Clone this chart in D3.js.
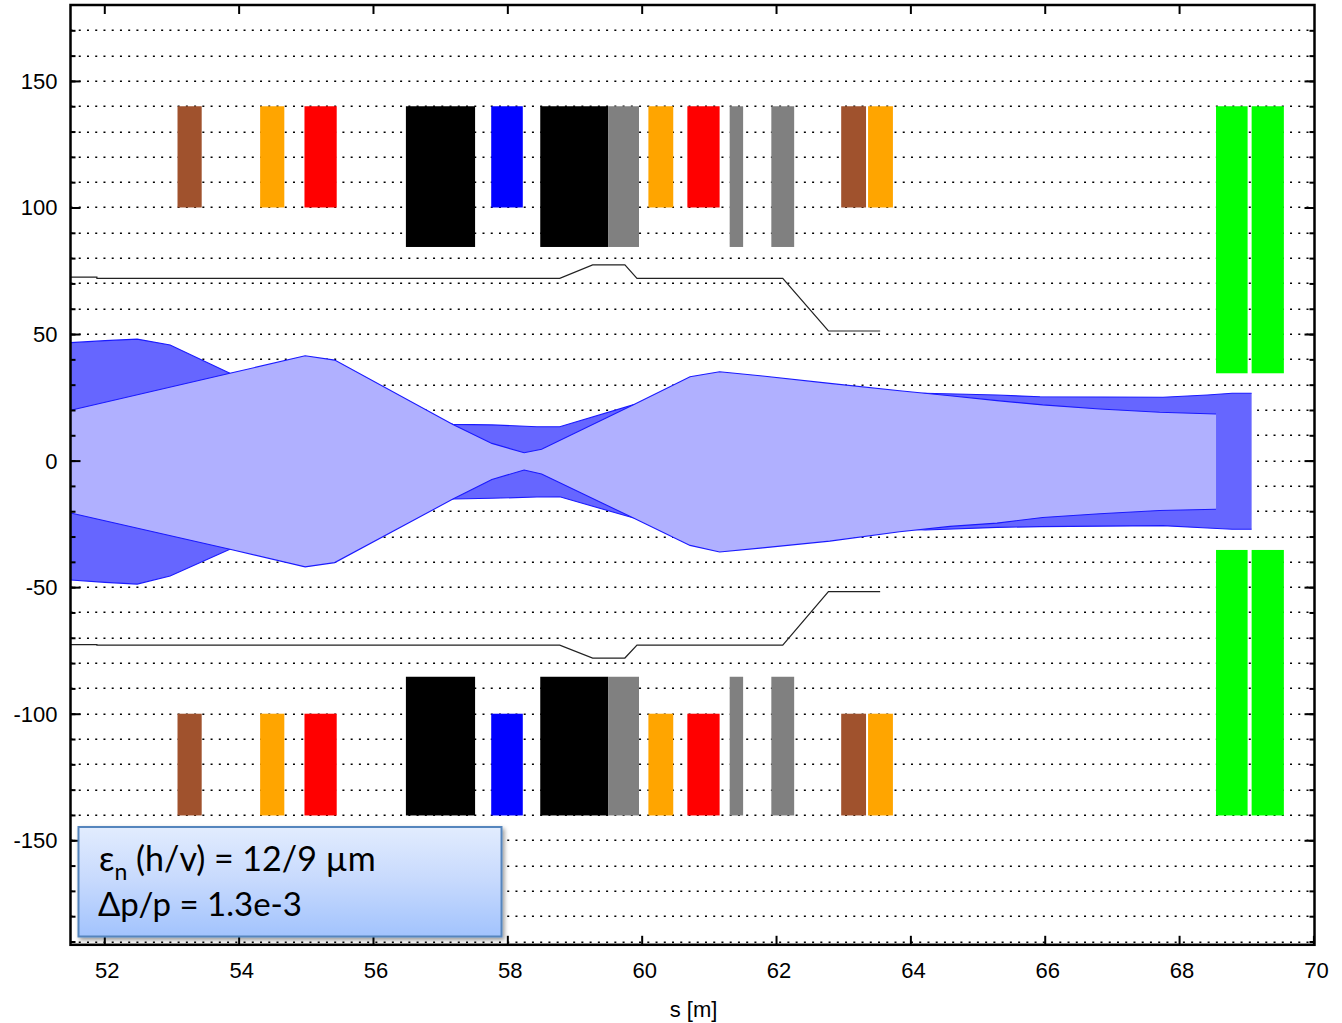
<!DOCTYPE html>
<html><head><meta charset="utf-8">
<script src="https://cdn.jsdelivr.net/npm/d3@7/dist/d3.min.js"></script>
<style>html,body{margin:0;padding:0;background:#fff}svg{display:block}</style>
</head><body><svg id="c" width="1342" height="1023"></svg>
<script>
const xTicks=[52,54,56,58,60,62,64,66,68,70];
const yMajor=[150,100,50,0,-50,-100,-150];
const yGrid=d3.range(-190,180,10);
const xLabel="s [m]";
const legendLine1=["ε","n"," (h/v) = 12/9 µm"];
const legendLine2="Δp/p = 1.3e-3";

// envelope 1 (outer, drawn behind)
const envAS=[51.50,52.01,52.49,52.98,53.87,57.19,57.77,58.44,58.78,59.87,64.22,65.29,65.93,67.76,68.42,68.79,69.08];
const envAUp=[46.6,47.4,48.0,45.7,34.5,14.3,14.1,13.4,13.4,22.0,26.6,25.9,25.2,25.0,25.9,26.6,26.6];
const envALo=[-47.2,-48.1,-48.8,-45.6,-35.0,-15.2,-14.9,-14.4,-14.3,-22.6,-27.4,-26.4,-26.1,-25.7,-26.6,-27.1,-27.1];
// envelope 2 (drawn on top)
const envBS=[51.50,53.87,54.99,55.43,57.19,57.77,58.25,58.51,59.87,60.72,61.16,61.80,62.80,63.84,64.59,65.29,65.97,66.82,67.71,68.55];
const envBUp=[19.9,34.5,41.4,39.7,14.3,6.8,3.1,4.5,22.0,33.1,35.1,33.4,30.5,27.6,25.6,23.7,22.0,20.4,19.1,18.4];
const envBLo=[-20.7,-35.0,-42.0,-40.3,-15.2,-7.5,-3.7,-5.3,-22.6,-33.5,-36.1,-34.5,-31.8,-28.1,-26.0,-24.7,-22.5,-21.0,-19.7,-19.2];
// thin black aperture line
const apS=[51.50,51.89,51.89,58.78,59.27,59.75,59.93,62.10,62.78,63.55];
const apUp=[72.5,72.5,72.0,72.0,77.3,77.3,72.0,72.0,51.2,51.2];
const apLo=[-72.7,-72.7,-72.9,-72.9,-78.0,-78.0,-72.9,-72.9,-51.8,-51.8];
// magnets
const barKind=["brown","orange","red","black","blue","black","gray","orange","red","gray","gray","brown","orange","green","green"];
const barStart=[53.09,54.32,54.98,56.49,57.76,58.49,59.50,60.10,60.68,61.31,61.93,62.97,63.37,68.55,69.08];
const barEnd=[53.45,54.68,55.46,57.52,58.23,59.50,59.96,60.47,61.16,61.51,62.27,63.34,63.74,69.02,69.56];
const barInnerUp=[100,100,100,84.4,100,84.4,84.4,100,100,84.4,84.4,100,100,34.5,34.5];
const barInnerLo=[-100,-100,-100,-85.4,-100,-85.4,-85.4,-100,-100,-85.4,-85.4,-100,-100,-35.3,-35.3];
const barOuterUp=140, barOuterLo=-140.2;

const L=70.5,R=1314.5,T=5,B=944.8;
const x=d3.scaleLinear().domain([51.497,70.016]).range([L,R]);
const y=d3.scaleLinear().domain([-191.3,180]).range([B,T]);
const kindColor=d3.scaleOrdinal().domain(["brown","orange","red","black","blue","gray","green"])
  .range(["#a0522d","#ffa500","#ff0000","#000000","#0000ff","#808080","#00ff00"]);
const svg=d3.select("#c");
const defs=svg.append("defs");
const FONT="'Liberation Sans',Arial,sans-serif";

// grid
svg.append("g").selectAll("line").data(yGrid).join("line")
 .attr("x1",L).attr("x2",R).attr("y1",d=>Math.round(y(d))+0.25).attr("y2",d=>Math.round(y(d))+0.25)
 .attr("stroke","#000").attr("stroke-width",1.5).attr("stroke-dasharray","2 6.24");

// envelopes
function poly(s,up,lo){
  return d3.area().x(i=>x(s[i])).y0(i=>y(lo[i])).y1(i=>y(up[i]))(d3.range(s.length));
}
function edge(s,v){return d3.line().x(i=>x(s[i])).y(i=>y(v[i]))(d3.range(s.length));}
const DARK="#6666ff",LIGHT="#b0b0ff",EDGE="#1a1aff";
const env=svg.append("g");
env.append("path").attr("d",poly(envAS,envAUp,envALo)).attr("fill",DARK);
[envAUp,envALo].forEach(v=>env.append("path").attr("d",edge(envAS,v)).attr("fill","none").attr("stroke",EDGE).attr("stroke-width",1.1));
env.append("path").attr("d",poly(envBS,envBUp,envBLo)).attr("fill",LIGHT);
[envBUp,envBLo].forEach(v=>env.append("path").attr("d",edge(envBS,v)).attr("fill","none").attr("stroke",EDGE).attr("stroke-width",1.1));

// aperture lines
[apUp,apLo].forEach(v=>svg.append("path").attr("d",edge(apS,v)).attr("fill","none").attr("stroke","#222").attr("stroke-width",1.2));

// bars
const idx=d3.range(barKind.length);
const bars=svg.append("g");
bars.selectAll("rect.u").data(idx).join("rect").attr("class","u")
 .attr("x",i=>x(barStart[i])).attr("width",i=>x(barEnd[i])-x(barStart[i]))
 .attr("y",y(barOuterUp)).attr("height",i=>y(barInnerUp[i])-y(barOuterUp))
 .attr("fill",i=>kindColor(barKind[i]));
bars.selectAll("rect.l").data(idx).join("rect").attr("class","l")
 .attr("x",i=>x(barStart[i])).attr("width",i=>x(barEnd[i])-x(barStart[i]))
 .attr("y",i=>y(barInnerLo[i])).attr("height",i=>y(barOuterLo)-y(barInnerLo[i]))
 .attr("fill",i=>kindColor(barKind[i]));

// axes
function style(g){
  g.select(".domain").remove();
  g.selectAll("line").attr("stroke","#000").attr("stroke-width",2);
  g.selectAll("text").attr("font-family",FONT).attr("font-size",22).attr("fill","#000");
}
const plainInt=d=>String(d);
svg.append("g").attr("transform",`translate(${L},0)`)
 .call(d3.axisLeft(y).tickValues(yMajor).tickSizeInner(-10).tickSizeOuter(0).tickPadding(13).tickFormat(plainInt)).call(style)
 .selectAll("text").attr("dy","0.34em");
svg.append("g").attr("transform",`translate(${L},0)`)
 .call(d3.axisLeft(y).tickValues(yGrid).tickSizeInner(-5).tickSizeOuter(0).tickFormat("")).call(style);
svg.append("g").attr("transform",`translate(${R},0)`)
 .call(d3.axisRight(y).tickValues(yMajor).tickSizeInner(-10).tickSizeOuter(0).tickFormat("")).call(style);
svg.append("g").attr("transform",`translate(${R},0)`)
 .call(d3.axisRight(y).tickValues(yGrid).tickSizeInner(-5).tickSizeOuter(0).tickFormat("")).call(style);
svg.append("g").attr("transform",`translate(0,${B})`)
 .call(d3.axisBottom(x).tickValues(xTicks).tickSizeInner(-9).tickSizeOuter(0).tickPadding(18).tickFormat(plainInt)).call(style)
 .selectAll("text").attr("dx",2.5).attr("dy","0.71em");
svg.append("g").attr("transform",`translate(0,${T})`)
 .call(d3.axisTop(x).tickValues(xTicks.slice(0,-1)).tickSizeInner(-9).tickSizeOuter(0).tickFormat("")).call(style);

// frame
svg.append("rect").attr("x",L).attr("y",T).attr("width",R-L).attr("height",B-T)
 .attr("fill","none").attr("stroke","#000").attr("stroke-width",2.5);

svg.append("text").attr("x",693.5).attr("y",1017).attr("text-anchor","middle")
 .attr("font-family",FONT).attr("font-size",22).text(xLabel);

// annotation box
const grad=defs.append("linearGradient").attr("id","boxGrad").attr("x1",0).attr("x2",0).attr("y1",0).attr("y2",1);
grad.append("stop").attr("offset",0).attr("stop-color","#e2ecfe");
grad.append("stop").attr("offset",0.5).attr("stop-color","#c6d9fd");
grad.append("stop").attr("offset",1).attr("stop-color","#a2c3fd");
const sh=defs.append("filter").attr("id","sh").attr("x","-5%").attr("y","-10%").attr("width","110%").attr("height","125%");
sh.append("feDropShadow").attr("dx",2).attr("dy",2.5).attr("stdDeviation",2).attr("flood-color","#000").attr("flood-opacity",0.4);
svg.append("rect").attr("x",78.5).attr("y",827).attr("width",423).attr("height",109.5)
 .attr("fill","url(#boxGrad)").attr("stroke","#5585bd").attr("stroke-width",2).attr("filter","url(#sh)");
const LF="Lato,'Open Sans',sans-serif";
const t1=svg.append("text").attr("x",99).attr("y",871).attr("font-family",LF).attr("font-size",34).attr("fill","#000");
t1.append("tspan").text(legendLine1[0]);
t1.append("tspan").attr("dy",9).attr("font-size",23).text(legendLine1[1]);
t1.append("tspan").attr("dy",-9).text(legendLine1[2]);
svg.append("text").attr("x",98).attr("y",916).attr("font-family",LF).attr("font-size",33).attr("fill","#000").text(legendLine2);
</script></body></html>
